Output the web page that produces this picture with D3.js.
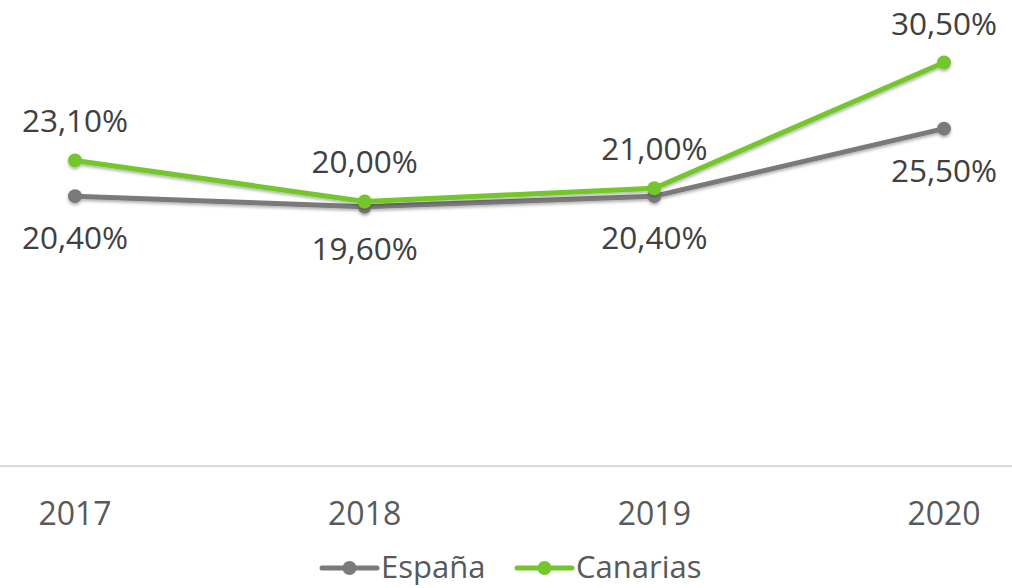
<!DOCTYPE html>
<html>
<head>
<meta charset="utf-8">
<script src="https://cdn.jsdelivr.net/npm/d3@7"></script>
<style>
  body { margin: 0; background: #fff; }
  svg { display: block; font-family: "Open Sans", "Noto Sans", sans-serif; }
</style>
</head>
<body>
<svg id="chart"></svg>
<script>
// data
let years = ['2017', '2018', '2019', '2020']
let espana = [20.4, 19.6, 20.4, 25.5]
let canarias = [23.1, 20.0, 21.0, 30.5]
let seriesNames = ['España', 'Canarias']
let seriesColors = ['#7a7a7a', '#74c62c']

let width = 1012
let height = 588

let svg = d3.select('#chart')
            .attr('width', width)
            .attr('height', height)

let defs = svg.append('defs')
let filter = defs.append('filter').attr('id', 'shadow')
                 .attr('x', '-5%').attr('y', '-20%').attr('width', '110%').attr('height', '150%')
filter.append('feDropShadow')
      .attr('dx', 0).attr('dy', 2).attr('stdDeviation', 1.5)
      .attr('flood-color', '#000').attr('flood-opacity', 0.3)

let x = d3.scalePoint().domain(years).range([75, 944])
let y = d3.scaleLinear().domain([0, 35]).range([466, 3])

// axis line
svg.append('line')
   .attr('x1', 0).attr('x2', width)
   .attr('y1', y(0)).attr('y2', y(0))
   .attr('stroke', '#d9d9d9').attr('stroke-width', 2)

// x labels
svg.selectAll('.xlab')
   .data(years)
   .enter()
   .append('text')
   .attr('class', 'xlab')
   .attr('x', d => x(d))
   .attr('y', 525)
   .attr('text-anchor', 'middle')
   .attr('fill', '#595959')
   .style('font-size', '32px')
   .text(d => d)

let fmt = v => v.toFixed(2).replace('.', ',') + '%'

let drawSeries = (values, color, labelOffset) => {
    let pts = years.map((yr, i) => ({ yr: yr, v: values[i] }))
    let line = d3.line().x(d => x(d.yr)).y(d => y(d.v))
    let g = svg.append('g').attr('filter', 'url(#shadow)')
    g.append('path')
     .datum(pts)
     .attr('d', line)
     .attr('fill', 'none')
     .attr('stroke', color)
     .attr('stroke-width', 5)
     .attr('stroke-linejoin', 'round')
    g.selectAll('circle')
     .data(pts)
     .enter()
     .append('circle')
     .attr('cx', d => x(d.yr))
     .attr('cy', d => y(d.v))
     .attr('r', 7)
     .attr('fill', color)
    svg.append('g').selectAll('text')
       .data(pts)
       .enter()
       .append('text')
       .attr('x', d => x(d.yr))
       .attr('y', d => y(d.v) + labelOffset)
       .attr('dy', '0.35em')
       .attr('text-anchor', 'middle')
       .attr('fill', '#404040')
       .style('font-size', '31.5px')
       .text(d => fmt(d.v))
}

drawSeries(espana, seriesColors[0], 42)
drawSeries(canarias, seriesColors[1], -39)

// legend
let legendX = [322, 517]
let legend = svg.append('g')
seriesNames.forEach((name, i) => {
    let lg = legend.append('g').attr('transform', 'translate(' + legendX[i] + ',568)')
    lg.append('line')
      .attr('x1', 0).attr('x2', 55).attr('y1', 0).attr('y2', 0)
      .attr('stroke', seriesColors[i]).attr('stroke-width', 5)
      .attr('stroke-linecap', 'round')
    lg.append('circle')
      .attr('cx', 27.5).attr('cy', 0).attr('r', 7)
      .attr('fill', seriesColors[i])
    lg.append('text')
      .attr('x', 59).attr('y', 0).attr('dy', '0.32em')
      .attr('fill', '#595959')
      .style('font-size', '31px')
      .text(name)
})
</script>
</body>
</html>
